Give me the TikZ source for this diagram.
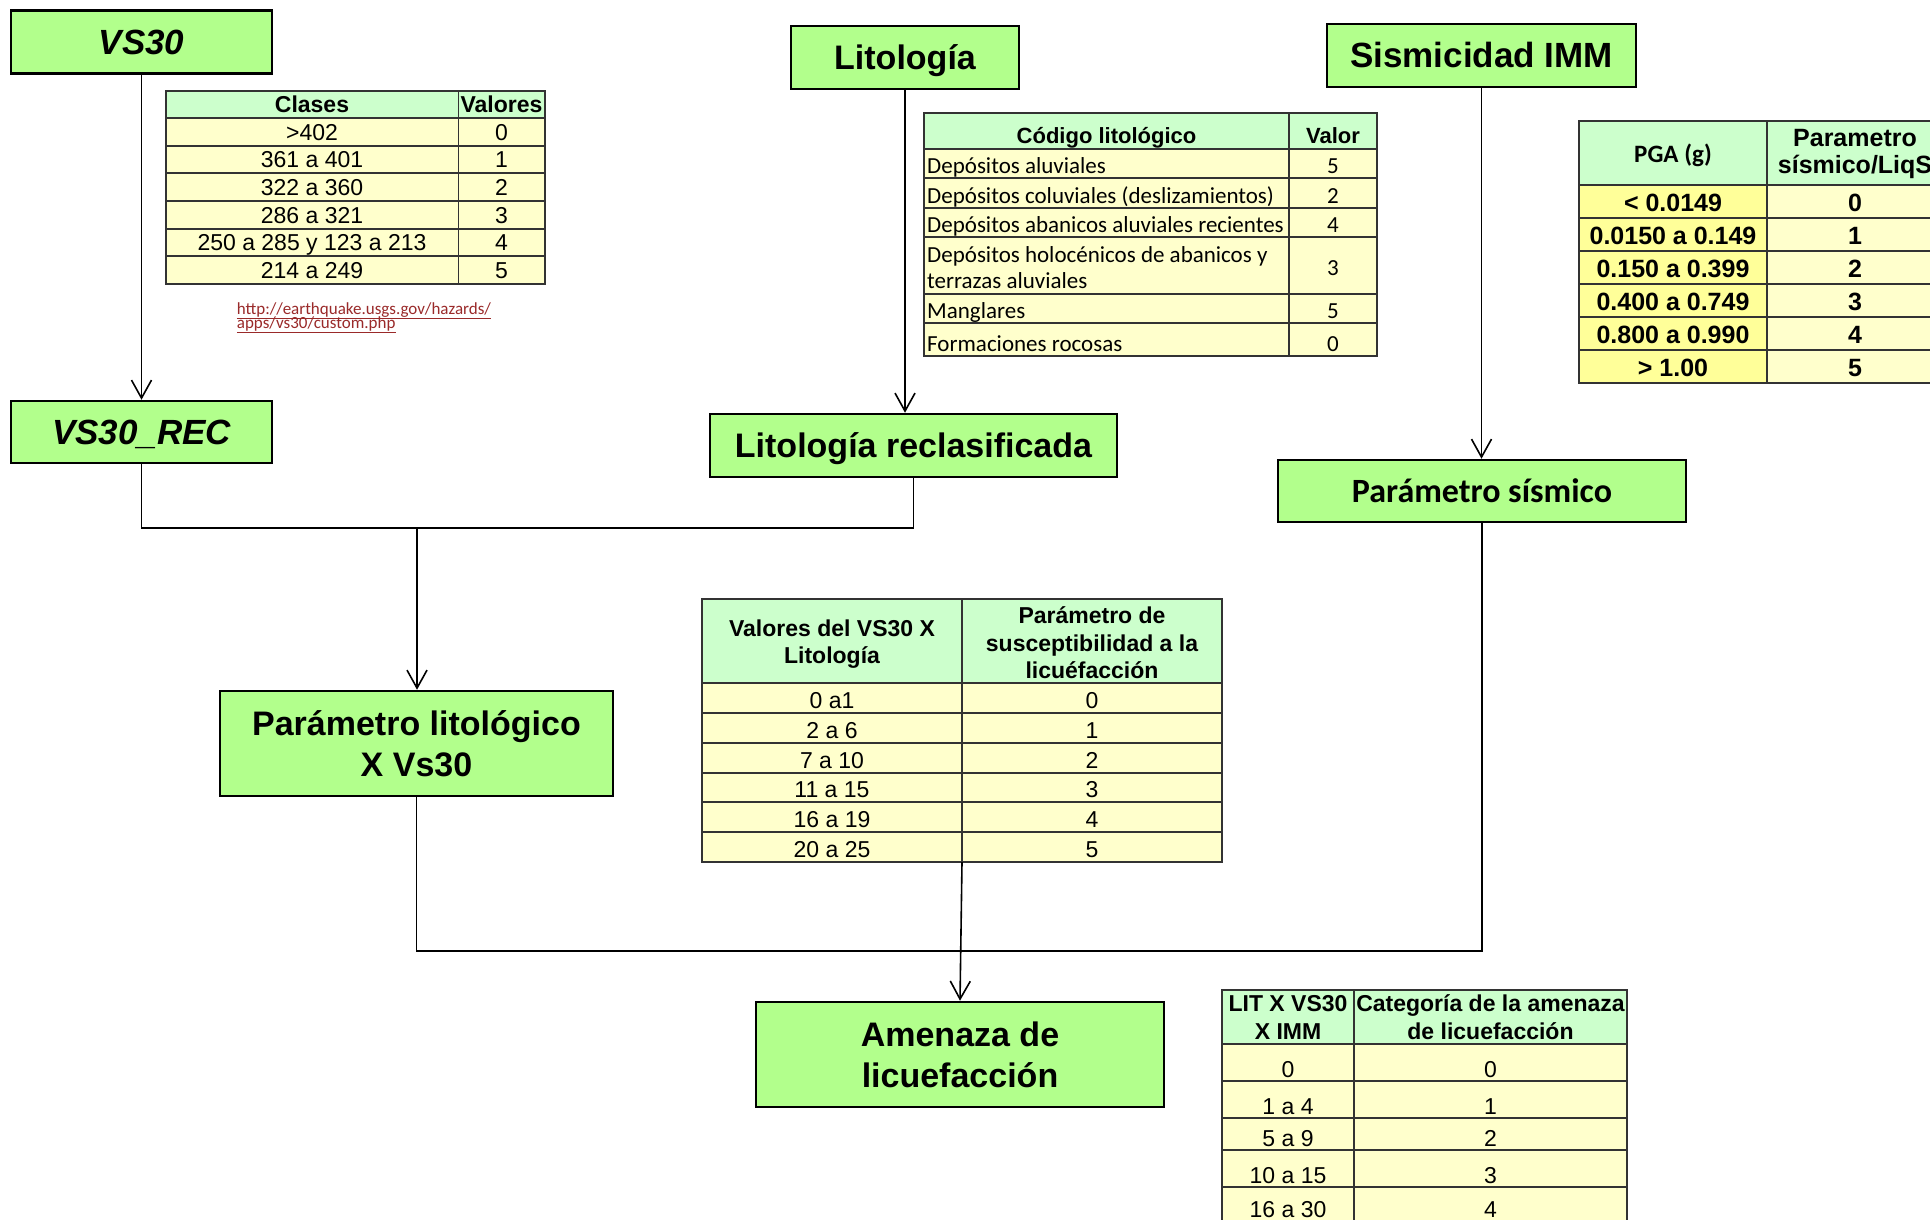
\documentclass[tikz,border=0pt]{standalone}
\usepackage{fontspec}
\setmainfont{Liberation Sans}
\newfontfamily\calibri{Carlito}
\usepackage{xcolor}
\usepackage{tikz}
\usetikzlibrary{arrows.meta}

\definecolor{boxgreen}{HTML}{B2FF8C}
\definecolor{headgreen}{HTML}{CCFFCC}
\definecolor{rowyellow}{HTML}{FFFFCC}
\definecolor{pgayellow}{HTML}{FFFF99}
\definecolor{linkred}{HTML}{9A2A2A}

\newcommand{\stepfont}{\bfseries\fontsize{34}{41}\selectfont}
\newcommand{\stepitfont}{\bfseries\itshape\fontsize{35}{41}\selectfont}

\tikzset{
  stepbox/.style={draw=black, line width=2.5pt, fill=boxgreen, inner sep=0pt, align=center, font=\stepfont},
  stepline/.style={stepbox, text height=24.5pt, text depth=0pt},
  headcell/.style={draw=black!80, line width=1.5pt, fill=headgreen},
  rowcell/.style={draw=black!80, line width=1.5pt, fill=rowyellow},
  cell/.style={inner sep=0pt, font=\fontsize{23}{27.5}\selectfont},
  headtext/.style={inner sep=0pt, font=\bfseries\fontsize{23}{27.5}\selectfont},
  wire/.style={draw=black, line width=1.6pt},
  wirearrow/.style={wire, -{Straight Barb[length=18pt,width=20pt]}},
}

\begin{document}
\begin{tikzpicture}[x=1pt, y=-1pt]
  \useasboundingbox (0,0) rectangle (1930,1220);
  \clip (0,0) rectangle (1930,1220);
  \fill[white] (0,0) rectangle (1930,1220);

  \node[stepline, minimum width=261pt, minimum height=63pt, font=\stepitfont] (vs30) at (141.5,42) {VS30};
  \node[stepline, minimum width=261pt, minimum height=62pt, font=\stepitfont] (vs30rec) at (141.5,432) {VS30\_REC};
  \node[stepline, minimum width=228pt, minimum height=63pt] (lito) at (905,57.5) {Litología};
  \node[stepline, minimum width=407pt, minimum height=63pt] (litorec) at (913.5,445.5) {Litología reclasificada};
  \node[stepline, minimum width=309pt, minimum height=63pt, font=\bfseries\fontsize{35}{41}\selectfont] (sism) at (1481.5,55.5) {Sismicidad IMM};
  \node[stepline, text height=22pt, minimum width=408pt, minimum height=62pt, font=\calibri\bfseries\fontsize{34}{41}\selectfont] (parsis) at (1482,491) {Parámetro sísmico};
  \node[stepbox, minimum width=393pt, minimum height=105pt] (parlit) at (416.5,743.5) {Parámetro litológico\\X Vs30};
  \node[stepbox, minimum width=408pt, minimum height=105pt] (amenaza) at (960,1054.5) {Amenaza de\\licuefacción};

  \draw[wirearrow] (vs30.south) -- (vs30rec.north);
  \draw[wirearrow] (lito.south) -- (lito.south |- litorec.north);
  \draw[wirearrow] (sism.south) -- (sism.south |- parsis.north);
  \coordinate (j1) at (417,528);
  \draw[wire] (vs30rec.south) |- (j1) -| (litorec.south);
  \draw[wirearrow] (j1) -- (j1 |- parlit.north);
  \coordinate (j2) at (960,951);
  \draw[wire] (parlit.south) |- (j2) -| (parsis.south);

  % tabla VS30
  \draw[headcell] (166,91) rectangle (458.5,118) (458.5,91) rectangle (545,118);
  \node[headtext, anchor=base] (clases) at (312,112.5) {Clases};
  \node[headtext, anchor=base] (valores) at (501.5,112.5) {Valores};
  \foreach \ya/\yb/\ta/\tb [count=\n] in {118/146/{>402}/0, 146/173/361 a 401/1, 173/201/322 a 360/2,
      201/229/286 a 321/3, 229/256/250 a 285 y 123 a 213/4, 256/284/214 a 249/5} {
    \draw[rowcell] (166,\ya) rectangle (458.5,\yb) (458.5,\ya) rectangle (545,\yb);
    \node[cell, anchor=base] (clase-\n) at (312,\yb-5.5) {\ta};
    \node[cell, anchor=base] (valor-\n) at (501.5,\yb-5.5) {\tb};
  }
  \node[inner sep=0pt, anchor=base west, text=linkred, font=\calibri\fontsize{17}{14}\selectfont] (url1) at (236.7,314) {\underline{http://earthquake.usgs.gov/hazards/}};
  \node[inner sep=0pt, anchor=base west, text=linkred, font=\calibri\fontsize{17}{14}\selectfont] (url2) at (236.7,328.5) {\underline{apps/vs30/custom.php}};

  % tabla litologia
  \draw[headcell] (924,113) rectangle (1289,149) (1289,113) rectangle (1377,149);
  \node[headtext, font=\bfseries\fontsize{22}{27}\selectfont, anchor=base] (codigo) at (1106.5,144) {Código litológico};
  \node[headtext, font=\bfseries\fontsize{22}{27}\selectfont, anchor=base] (valor) at (1333,144) {Valor};
  \foreach \ya/\yb/\ta/\tb [count=\n] in {149/178/{Depósitos aluviales}/5, 178/208/{Depósitos coluviales (deslizamientos)}/2,
      208/237/{Depósitos abanicos aluviales recientes}/4, 294/323/{Manglares}/5, 323/356/{Formaciones rocosas}/0} {
    \draw[rowcell] (924,\ya) rectangle (1289,\yb) (1289,\ya) rectangle (1377,\yb);
    \node[cell, font=\calibri\fontsize{23}{27}\selectfont, anchor=base west] (lito-\n) at (927,\yb-5) {\ta};
    \node[cell, font=\calibri\fontsize{23}{27}\selectfont, anchor=base] (litoval-\n) at (1333,\yb-5) {\tb};
  }
  \draw[rowcell] (924,237) rectangle (1289,294) (1289,237) rectangle (1377,294);
  \node[cell, font=\calibri\fontsize{23}{27}\selectfont, anchor=base west] (holo-a) at (927,262) {Depósitos holocénicos de abanicos y};
  \node[cell, font=\calibri\fontsize{23}{27}\selectfont, anchor=base west] (holo-b) at (927,288) {terrazas aluviales};
  \node[cell, font=\calibri\fontsize{23}{27}\selectfont, anchor=base] (holo-val) at (1333,275) {3};

  % tabla PGA
  \draw[headcell] (1579,121) rectangle (1767,185) (1767,121) rectangle (1943,185);
  \node[headtext, font=\calibri\bfseries\fontsize{25}{27}\selectfont] (pga) at (1673,155) {PGA (g)};
  \node[headtext, align=center, font=\bfseries\fontsize{25}{27}\selectfont] (parliq) at (1855,154) {Parametro\\sísmico/LiqS};
  \foreach \ya/\yb/\ta/\tb [count=\n] in {185/218/{< 0.0149}/0, 218/251/0.0150 a 0.149/1, 251/284/0.150 a 0.399/2,
      284/317/0.400 a 0.749/3, 317/350/0.800 a 0.990/4, 350/383/{> 1.00}/5} {
    \draw[rowcell, fill=pgayellow] (1579,\ya) rectangle (1767,\yb);
    \draw[rowcell] (1767,\ya) rectangle (1943,\yb);
    \node[headtext, font=\bfseries\fontsize{25}{27}\selectfont, anchor=base] (pgaval-\n) at (1673,\yb-6.5) {\ta};
    \node[headtext, font=\bfseries\fontsize{25}{27}\selectfont, anchor=base] (liqval-\n) at (1855,\yb-6.5) {\tb};
  }

  % tabla VS30 x litologia
  \draw[headcell] (702,599) rectangle (962,683) (962,599) rectangle (1222,683);
  \node[headtext, align=center] (vslito) at (832,644) {Valores del VS30 X\\Litología};
  \node[headtext, align=center] (suscep) at (1092,643) {Parámetro de\\susceptibilidad a la\\licuéfacción};
  \foreach \ya/\yb/\ta/\tb [count=\n] in {683/713/0 a1/0, 713/743/2 a 6/1, 743/773/7 a 10/2,
      773/802/11 a 15/3, 802/832/16 a 19/4, 832/862/20 a 25/5} {
    \draw[rowcell] (702,\ya) rectangle (962,\yb) (962,\ya) rectangle (1222,\yb);
    \node[cell, anchor=base] (vsl-\n) at (832,\yb-5) {\ta};
    \node[cell, anchor=base] (sus-\n) at (1092,\yb-5) {\tb};
  }
  \coordinate (t4foot) at (962,862);
  \draw[wirearrow] (t4foot) -- (amenaza.north);

  % tabla amenaza
  \draw[headcell] (1222,990) rectangle (1354,1044) (1354,990) rectangle (1627,1044);
  \node[headtext, align=center, font=\bfseries\fontsize{23}{28}\selectfont] (litimm) at (1288,1017) {LIT X VS30\\X IMM};
  \node[headtext, align=center, font=\bfseries\fontsize{23}{28}\selectfont] (categ) at (1490.5,1017) {Categoría de la amenaza\\de licuefacción};
  \foreach \ya/\yb/\tl/\ta/\tb [count=\n] in {1044/1081/1077/0/0, 1081/1118/1114/1 a 4/1, 1118/1150/1146/5 a 9/2,
      1150/1187/1183/10 a 15/3, 1187/1224/1217.5/16 a 30/4} {
    \draw[rowcell] (1222,\ya) rectangle (1354,\yb) (1354,\ya) rectangle (1627,\yb);
    \node[cell, anchor=base] (lim-\n) at (1288,\tl) {\ta};
    \node[cell, anchor=base] (cat-\n) at (1490.5,\tl) {\tb};
  }
\end{tikzpicture}
\end{document}
